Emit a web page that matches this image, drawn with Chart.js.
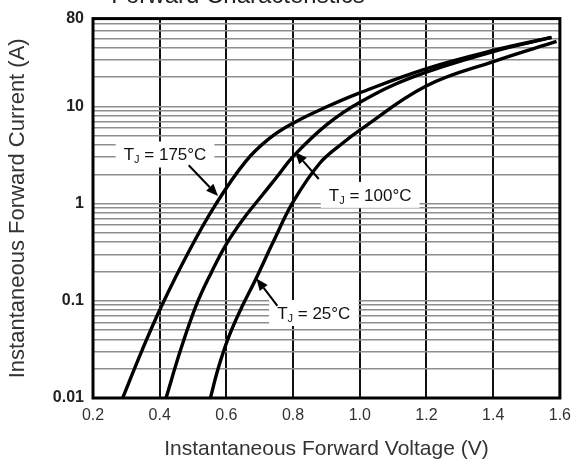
<!DOCTYPE html>
<html>
<head>
<meta charset="utf-8">
<script src="https://cdn.jsdelivr.net/npm/chart.js@4.4.1/dist/chart.umd.min.js"></script>
<style>
  html, body { margin: 0; padding: 0; background: #fff; }
</style>
</head>
<body>
<canvas id="chart" width="579" height="464"></canvas>
<script>
// forward characteristics
const voltage175 = [0.289, 0.348, 0.407, 0.487, 0.567, 0.658, 0.729, 0.803, 0.901, 0.998, 1.196, 1.403, 1.575];
const current175 = [0.01, 0.0315, 0.0906, 0.32, 0.97, 2.72, 4.68, 6.8, 9.9, 13.7, 24.2, 37.8, 51.2];

const voltage100 = [0.419, 0.463, 0.510, 0.555, 0.599, 0.649, 0.703, 0.753, 0.803, 0.901, 0.998, 1.158, 1.403, 1.575];
const current100 = [0.01, 0.0315, 0.0906, 0.196, 0.379, 0.682, 1.17, 1.91, 3.13, 6.49, 10.9, 20.0, 36.9, 51.2];

const voltage25 = [0.552, 0.5755, 0.605, 0.6435, 0.685, 0.741, 0.800, 0.880, 0.951, 0.998, 1.199, 1.403, 1.590];
const current25 = [0.01, 0.0202, 0.0408, 0.0824, 0.159, 0.407, 1.04, 2.60, 4.25, 5.64, 16.2, 29.1, 46.6];

const xTicks = [0.2, 0.4, 0.6, 0.8, 1.0, 1.2, 1.4, 1.6];
const yGrid = [
  0.01, 0.02, 0.03, 0.04, 0.05, 0.06, 0.07, 0.08, 0.09,
  0.1, 0.2, 0.3, 0.4, 0.5, 0.6, 0.7, 0.8, 0.9,
  1, 2, 3, 4, 5, 6, 7, 8, 9,
  10, 20, 30, 40, 50, 60, 70, 80
];
const yLabels = [0.01, 0.1, 1, 10, 80];

// curve labels: text centre, arrow tail, arrow tip (volts, amps)
const callouts = [
  { temp: '175°C', at: [0.416, 3.2], from: [0.487, 2.48], to: [0.575, 1.2] },
  { temp: '100°C', at: [1.031, 1.23], from: [0.877, 1.79], to: [0.806, 3.4] },
  { temp: '25°C', at: [0.862, 0.075], from: [0.753, 0.0885], to: [0.690, 0.17] }
];

const FONT = '"Liberation Sans", Arial, sans-serif';
const pts = (xs, ys) => xs.map((v, i) => ({ x: v, y: ys[i] }));

function drawLabel(ctx, c, cx, cy) {
  const big = '17px ' + FONT, small = '11px ' + FONT;
  const rest = ' = ' + c.temp;
  ctx.font = big;
  const wT = ctx.measureText('T').width, wR = ctx.measureText(rest).width;
  ctx.font = small;
  const wJ = ctx.measureText('J').width;
  const w = wT + wJ + wR;
  ctx.fillStyle = '#fff';
  ctx.fillRect(cx - w / 2 - 8, cy - 13, w + 16, 26);
  ctx.fillStyle = '#111';
  ctx.textBaseline = 'alphabetic';
  ctx.textAlign = 'left';
  const x0 = cx - w / 2;
  const base = cy + 6;
  ctx.font = big; ctx.fillText('T', x0, base);
  ctx.font = small; ctx.fillText('J', x0 + wT, base + 3);
  ctx.font = big; ctx.fillText(rest, x0 + wT + wJ, base);
}

const overlay = {
  id: 'overlay',
  beforeDatasetsDraw(chart) {
    const { ctx, chartArea: a, scales: { x, y } } = chart;
    ctx.save();
    callouts.forEach(c => drawLabel(ctx, c, x.getPixelForValue(c.at[0]), y.getPixelForValue(c.at[1])));
    ctx.strokeStyle = '#000';
    ctx.lineWidth = 3;
    ctx.strokeRect(a.left, a.top, a.width, a.height);
    ctx.restore();
  },
  afterDatasetsDraw(chart) {
    const { ctx, scales: { x, y } } = chart;
    ctx.save();
    ctx.strokeStyle = '#000';
    ctx.fillStyle = '#000';
    ctx.lineWidth = 2;
    callouts.forEach(c => {
      const x1 = x.getPixelForValue(c.from[0]), y1 = y.getPixelForValue(c.from[1]);
      const x2 = x.getPixelForValue(c.to[0]), y2 = y.getPixelForValue(c.to[1]);
      const ang = Math.atan2(y2 - y1, x2 - x1);
      const len = 12, hw = 5;
      const bx = x2 - len * Math.cos(ang), by = y2 - len * Math.sin(ang);
      ctx.beginPath();
      ctx.moveTo(x1, y1);
      ctx.lineTo(bx, by);
      ctx.stroke();
      ctx.beginPath();
      ctx.moveTo(x2, y2);
      ctx.lineTo(bx + hw * Math.sin(ang), by - hw * Math.cos(ang));
      ctx.lineTo(bx - hw * Math.sin(ang), by + hw * Math.cos(ang));
      ctx.closePath();
      ctx.fill();
    });
    ctx.restore();
  },
  afterDraw(chart) {
    const { ctx, chartArea: a } = chart;
    ctx.save();
    ctx.font = '24px ' + FONT;
    ctx.fillStyle = '#222';
    ctx.textAlign = 'center';
    ctx.textBaseline = 'alphabetic';
    ctx.fillText('Forward Characteristics', a.left + 145, 3);
    ctx.restore();
  }
};

const curve = (label, data) => ({
  label, data,
  borderColor: '#000',
  borderWidth: 3.4,
  pointRadius: 0,
  fill: false,
  tension: 0.4
});

new Chart(document.getElementById('chart'), {
  type: 'line',
  data: {
    datasets: [
      curve('TJ = 175°C', pts(voltage175, current175)),
      curve('TJ = 100°C', pts(voltage100, current100)),
      curve('TJ = 25°C', pts(voltage25, current25))
    ]
  },
  options: {
    responsive: false,
    animation: false,
    devicePixelRatio: 1,
    layout: { padding: { top: 15, right: 13, bottom: 0, left: 0 } },
    plugins: { legend: { display: false }, tooltip: { enabled: false } },
    scales: {
      x: {
        type: 'linear',
        min: 0.2,
        max: 1.6,
        afterBuildTicks: s => { s.ticks = xTicks.map(v => ({ value: v })); },
        afterFit: s => { s.height = 66; },
        ticks: {
          callback: v => Number(v).toFixed(1),
          font: { family: FONT, size: 16 },
          color: '#333',
          padding: 8,
          maxRotation: 0,
          autoSkip: false
        },
        grid: { color: '#111', lineWidth: 2, drawTicks: false },
        border: { display: false },
        title: {
          display: true,
          text: 'Instantaneous Forward Voltage (V)',
          font: { family: FONT, size: 21 },
          color: '#333',
          padding: { top: 0, bottom: 2 }
        }
      },
      y: {
        type: 'logarithmic',
        min: 0.01,
        max: 80,
        afterBuildTicks: s => { s.ticks = yGrid.map(v => ({ value: v })); },
        afterFit: s => { s.width = 93; },
        ticks: {
          callback: v => (yLabels.includes(v) ? String(v) : ''),
          font: { family: FONT, size: 16, weight: 'bold' },
          color: '#222',
          padding: 9,
          autoSkip: false
        },
        grid: { color: '#8e8e8e', lineWidth: 1.6, drawTicks: false },
        border: { display: false },
        title: {
          display: true,
          text: 'Instantaneous Forward Current (A)',
          font: { family: FONT, size: 22 },
          color: '#333',
          padding: { top: 5, bottom: 0 }
        }
      }
    }
  },
  plugins: [overlay]
});
</script>
</body>
</html>
